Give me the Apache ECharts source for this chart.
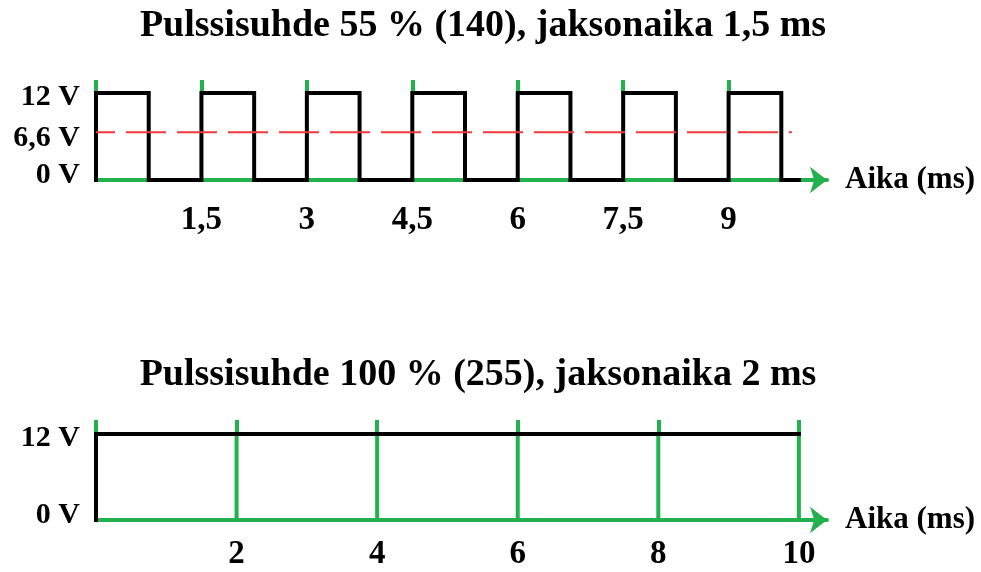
<!DOCTYPE html>
<html>
<head>
<meta charset="utf-8">
<script src="https://cdn.jsdelivr.net/npm/echarts@6/dist/echarts.min.js"></script>
<style>
  html, body { margin: 0; padding: 0; background: #fff; }
  #chart { width: 981px; height: 572px; }
</style>
</head>
<body>
<div id="chart"></div>
<script>
// PWM 55 %, jakso 1,5 ms
const pwmTitle = 'Pulssisuhde 55 % (140), jaksonaika 1,5 ms';
const riseTimes = [0, 1.5, 3, 4.5, 6, 7.5, 9];
const fallTimes = [0.75, 2.25, 3.75, 5.25, 6.75, 8.25, 9.75];
const pwmEnd = 10;
const pwmTicks = [0, 1.5, 3, 4.5, 6, 7.5, 9];
const pwmLabels = [1.5, 3, 4.5, 6, 7.5, 9];
const pwmVolts = [0, 6.6, 12];
const avgVolt = 6.6;
const avgLineEnd = 9.9;

// PWM 100 %, jakso 2 ms
const fullTitle = 'Pulssisuhde 100 % (255), jaksonaika 2 ms';
const fullEnd = 10;
const fullTicks = [0, 2, 4, 6, 8, 10];
const fullLabels = [2, 4, 6, 8, 10];
const fullVolts = [0, 12];

const highVolt = 12;
const axisName = 'Aika (ms)';

const GREEN = '#22b14c';
const FONT = 'Liberation Serif';
const X_MAX = 10.4;

let chart = echarts.init(document.getElementById('chart'));

// kanttiaallon pisteet
let pwmData = [];
riseTimes.forEach(function (t, i) {
  pwmData.push([t, 0], [t, highVolt], [fallTimes[i], highVolt], [fallTimes[i], 0]);
});
pwmData.push([pwmEnd, 0]);

let fullData = [[0, 0], [0, highVolt], [fullEnd, highVolt]];

function fmtNum(v) {
  return String(v).replace('.', ',');
}

let labelStyle = { fontFamily: FONT, fontWeight: 'bold', fontSize: 30, color: '#000' };

function bottomAxis(gridIndex, labels, margin) {
  return {
    type: 'value', gridIndex: gridIndex, position: 'bottom', min: 0, max: X_MAX,
    name: axisName, nameLocation: 'end', nameGap: 18,
    nameTextStyle: Object.assign({}, labelStyle, { fontSize: 31 }),
    axisLine: { show: true, onZero: false, symbol: ['none', 'arrow'], symbolSize: [20, 17],
      lineStyle: { color: GREEN, width: 4 } },
    axisTick: { show: false },
    splitLine: { show: false },
    axisLabel: Object.assign({}, labelStyle, { fontSize: 33, margin: margin,
      customValues: labels, formatter: fmtNum })
  };
}

// ylälaidan vihreät jaksomerkit
function topAxis(gridIndex, ticks, len) {
  return {
    type: 'value', gridIndex: gridIndex, position: 'top', min: 0, max: X_MAX,
    axisLine: { show: false, onZero: false },
    axisTick: { show: true, inside: false, length: len, customValues: ticks,
      lineStyle: { color: GREEN, width: 4 } },
    axisLabel: { show: true, customValues: ticks, formatter: function () { return ''; } },
    splitLine: { show: false }
  };
}

// jännitetasot, hieman siirretyt kuten alkuperäisessä
function voltAxis(gridIndex, volts) {
  return {
    type: 'value', gridIndex: gridIndex, min: 0, max: highVolt,
    axisLine: { show: false }, axisTick: { show: false }, splitLine: { show: false },
    axisLabel: Object.assign({}, labelStyle, { margin: 16, customValues: volts,
      formatter: function (v) {
        let s = fmtNum(v) + ' V';
        if (v === 0) return '{lo|' + s + '}';
        if (v === highVolt) return '{hi|' + s + '}';
        return '{mid|' + s + '}';
      },
      rich: {
        hi: { fontFamily: FONT, fontWeight: 'bold', fontSize: 30, padding: [8, 0, 0, 0] },
        mid: { fontFamily: FONT, fontWeight: 'bold', fontSize: 30, padding: [12, 0, 0, 0] },
        lo: { fontFamily: FONT, fontWeight: 'bold', fontSize: 30, padding: [0, 0, 10, 0] }
      }
    })
  };
}

let greenLines = fullTicks.filter(function (t) { return t > 0; }).map(function (t) {
  return {
    type: 'line', xAxisIndex: 2, yAxisIndex: 1, symbol: 'none', silent: true, z: 1,
    data: [[t, 0], [t, highVolt]],
    lineStyle: { color: GREEN, width: 4 }
  };
});

let titleStyle = { fontFamily: FONT, fontWeight: 'bold', fontSize: 38, color: '#000' };

let option = {
  animation: false,
  title: [
    { text: pwmTitle, left: 478, top: 2, textAlign: 'center', textStyle: titleStyle },
    { text: fullTitle, left: 473, top: 351, textAlign: 'center', textStyle: titleStyle }
  ],
  grid: [
    { left: 96, top: 93, width: 731, height: 87 },
    { left: 96, top: 434, width: 731, height: 86 }
  ],
  xAxis: [
    bottomAxis(0, pwmLabels, 24),
    topAxis(0, pwmTicks, 13),
    bottomAxis(1, fullLabels, 18),
    topAxis(1, fullTicks, 14)
  ],
  yAxis: [voltAxis(0, pwmVolts), voltAxis(1, fullVolts)],
  series: [
    {
      type: 'line', xAxisIndex: 0, yAxisIndex: 0, symbol: 'none', z: 3,
      data: pwmData,
      lineStyle: { color: '#000', width: 4, join: 'miter', cap: 'square' }
    },
    {
      type: 'line', xAxisIndex: 0, yAxisIndex: 0, symbol: 'none', z: 4,
      data: [[0, avgVolt], [avgLineEnd, avgVolt]],
      lineStyle: { color: '#f03a3a', width: 2, type: [40, 11], dashOffset: 21 }
    },
    {
      type: 'line', xAxisIndex: 2, yAxisIndex: 1, symbol: 'none', z: 3,
      data: fullData,
      lineStyle: { color: '#000', width: 4, join: 'miter', cap: 'square' }
    },
    // tyhjät sarjat ylä-akseleille, jotta ne piirretään
    { type: 'line', xAxisIndex: 1, yAxisIndex: 0, data: [] },
    { type: 'line', xAxisIndex: 3, yAxisIndex: 1, data: [] }
  ].concat(greenLines)
};

chart.setOption(option);
</script>
</body>
</html>
